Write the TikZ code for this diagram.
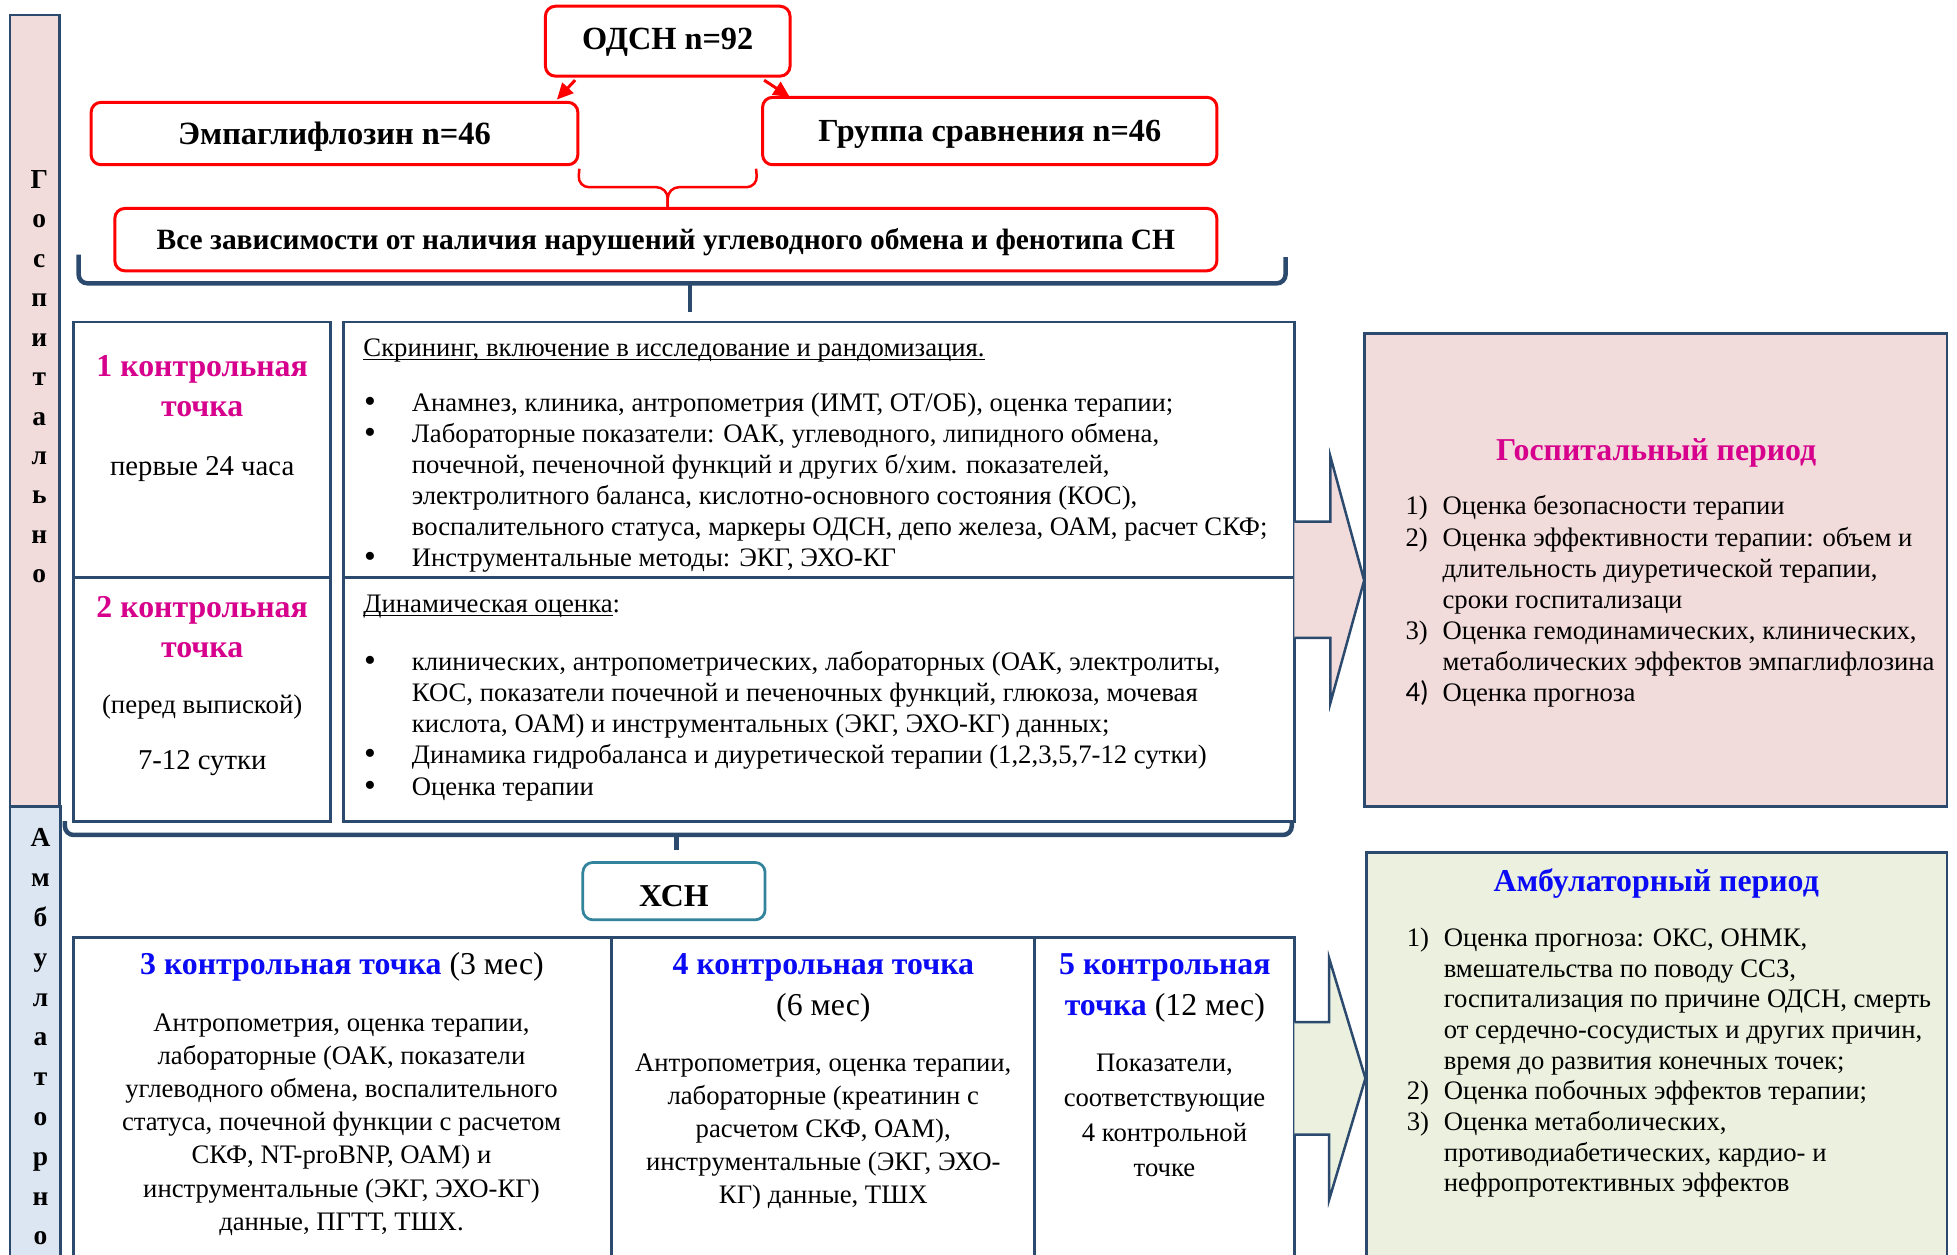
\documentclass[tikz,border=0pt]{standalone}
\usepackage{fontspec}
\setmainfont{Liberation Serif}
\newfontfamily\calibrif{Carlito}
\usetikzlibrary{arrows.meta,calc}
\definecolor{mynavy}{HTML}{2C4A6E}
\definecolor{pinkfill}{HTML}{F2DCDB}
\definecolor{bluefill}{HTML}{DCE6F2}
\definecolor{greenfill}{HTML}{EBF1DE}
\definecolor{magtxt}{RGB}{214,0,140}
\definecolor{bluetxt}{RGB}{10,10,245}
\definecolor{tealline}{HTML}{31849B}
\definecolor{redline}{RGB}{255,0,0}
\newcommand\fbody{\fontsize{21.4}{24.8}\selectfont}
\newcommand\fhead{\fontsize{25.5}{32}\selectfont\bfseries}
\newcommand\fheadr{\fontsize{25.5}{32.3}\selectfont}
\newcommand\fleft{\fontsize{23}{28}\selectfont}
\newcommand\fbar{\fontsize{22}{26}\selectfont\bfseries}
\newcommand\mylines[2]{\begin{tabular}[t]{@{}#1@{}}#2\end{tabular}}
\newcommand\mybul{\makebox[38.8pt][l]{\hspace*{0.5pt}\raisebox{-0.8pt}{\fontsize{27}{27}\selectfont •}}}
\newcommand\myind{\hspace*{38.8pt}}
\newcommand\mynum[1]{\makebox[29.6pt][l]{#1}}
\newcommand\mynind{\hspace*{29.6pt}}
\newsavebox\myulbox
\newcommand\myul[1]{\sbox\myulbox{#1}\rlap{\rule[-2.6pt]{\wd\myulbox}{1.1pt}}\usebox\myulbox}
\begin{document}
\begin{tikzpicture}[x=1pt,y=-1pt,
  txt/.style={inner sep=0pt,anchor=base west},
  ctxt/.style={inner sep=0pt,anchor=base},
  redbox/.style={draw=redline,line width=2.4pt,rounded corners=8pt,fill=white,inner sep=0pt},
  cellbox/.style={draw=mynavy,line width=2.2pt,inner sep=0pt},
  barbox/.style={draw=mynavy,line width=2.2pt},
  bartxt/.style={inner sep=0pt,anchor=base,font=\fbar},
  redarrow/.style={draw=redline,line width=2.4pt,-{Triangle[length=13pt,width=12pt]}},
  redbrace/.style={draw=redline,line width=2pt,rounded corners=9pt},
  navybrace/.style={draw=mynavy,line width=3.6pt,rounded corners=7pt},
  blockarrow/.style={draw=mynavy,line width=2pt,line join=miter}]
\useasboundingbox (0,0) rectangle (1568,1005.5);
\clip (0,0) rectangle (1568,1005.5);
\fill[white] (0,0) rectangle (1568,1005.5);

% left period bars
\draw[barbox,fill=pinkfill] (8,12) rectangle (47.5,646);
\draw[barbox,fill=bluefill] (8,646) rectangle (48.6,1100);
\foreach \ch [count=\i] in {Г,о,с,п,и,т,а,л,ь,н,о}
  \node[bartxt] (gl\i) at (31.5,{151+31.6*(\i-1)}) {\ch};
\foreach \ch [count=\i] in {А,м,б,у,л,а,т,о,р,н,о}
  \node[bartxt] (al\i) at (32.5,{678.5+31.9*(\i-1)}) {\ch};

% top group boxes
\node[redbox,minimum width=196pt,minimum height=56pt,text height=17pt,text depth=3pt,
  font=\fontsize{25.9}{30}\selectfont\bfseries] (odsn) at (535,33) {ОДСН n=92};
\node[redbox,minimum width=390pt,minimum height=50pt,text height=19.8pt,text depth=3pt,
  font=\fontsize{26}{30}\selectfont\bfseries] (emp) at (268,107) {Эмпаглифлозин n=46};
\node[redbox,minimum width=364pt,minimum height=54pt,text height=20pt,text depth=3pt,
  font=\fontsize{25.8}{30}\selectfont\bfseries] (grp) at (793,105) {Группа сравнения n=46};
\node[redbox,minimum width=883pt,minimum height=50pt,text height=19pt,text depth=3pt,
  font=\fontsize{23.6}{28}\selectfont\bfseries] (all) at (533.5,192)
  {Все зависимости от наличия нарушений углеводного обмена и фенотипа СН};

\draw[redarrow] ($(odsn.south west)+(25,2)$) -- ($(emp.north east)+(-18,-1)$);
\draw[redarrow] ($(odsn.south east)+(-22,2)$) -- ($(grp.north west)+(23,1)$);

\coordinate (bracetip) at (535,167);
\draw[redbrace] ($(emp.south east)+(0,2)$) -- (463,150) -- (535,150) -- (bracetip);
\draw[redbrace] ($(grp.south west)+(-4,2)$) -- (607,150) -- (535,150) -- (bracetip);

% navy brace under the group boxes
\draw[navybrace] (63,204) -- (63,227) -- (1030,227) -- (1030,206);
\draw[navybrace] (553,226) -- (553,250);

% upper table
\node[cellbox,minimum width=206pt,minimum height=205pt] (c1) at (162,360.5) {};
\node[cellbox,minimum width=206pt,minimum height=195pt] (c2) at (162,560.5) {};
\node[cellbox,minimum width=762pt,minimum height=205pt] (r1) at (656,360.5) {};
\node[cellbox,minimum width=762pt,minimum height=195pt] (r2) at (656,560.5) {};

\node[ctxt,font=\fhead,text=magtxt] (c1h) at (162,302) {\mylines{c}{1 контрольная\\точка}};
\node[ctxt,font=\fleft] (c1t) at (162,380.6) {первые 24 часа};
\node[ctxt,font=\fhead,text=magtxt] (c2h) at (162,495) {\mylines{c}{2 контрольная\\точка}};
\node[ctxt,font=\fontsize{21.5}{26}\selectfont] (c2t) at (162,571.5) {(перед выпиской)};
\node[ctxt,font=\fleft] (c2d) at (162,616.7) {7-12 сутки};

\node[txt,font=\fbody] (r1h) at (291,286) {\myul{Скрининг, включение в исследование и рандомизация.}};
\node[txt,font=\fbody] (r1l) at (291,330) {\mylines{l}{%
\mybul Анамнез, клиника, антропометрия (ИМТ, ОТ/ОБ), оценка терапии;\\
\mybul Лабораторные показатели: ОАК, углеводного, липидного обмена,\\
\myind почечной, печеночной функций и других б/хим. показателей,\\
\myind электролитного баланса, кислотно-основного состояния (КОС),\\
\myind воспалительного статуса, маркеры ОДСН, депо железа, ОАМ, расчет СКФ;\\
\mybul Инструментальные методы: ЭКГ, ЭХО-КГ}};
\node[txt,font=\fbody] (r2h) at (291,491) {\myul{Динамическая оценка}:};
\node[txt,font=\fontsize{21.4}{25}\selectfont] (r2l) at (291,537) {\mylines{l}{%
\mybul клинических, антропометрических, лабораторных (ОАК, электролиты,\\
\myind КОС, показатели почечной и печеночных функций, глюкоза, мочевая\\
\myind кислота, ОАМ) и инструментальных (ЭКГ, ЭХО-КГ) данных;\\
\mybul Динамика гидробаланса и диуретической терапии (1,2,3,5,7-12 сутки)\\
\mybul Оценка терапии}};

% lower bracket
\draw[navybrace] (52,658) -- (52,669) -- (1035,669) -- (1035,658);
\draw[navybrace] (542,668) -- (542,681);

\node[draw=tealline,line width=2.2pt,rounded corners=8pt,fill=white,inner sep=0pt,
  minimum width=146pt,minimum height=46pt,text height=25pt,text depth=1pt,
  font=\fontsize{25.5}{30}\selectfont\bfseries] (xsn) at (540,714) {ХСН};

% lower table
\node[cellbox,minimum width=431pt,minimum height=349pt] (d1) at (274.5,925.5) {};
\node[cellbox,minimum width=339pt,minimum height=349pt] (d2) at (659.5,925.5) {};
\node[cellbox,minimum width=208pt,minimum height=349pt] (d3) at (933,925.5) {};

\node[ctxt,font=\fheadr] (d1h) at (274,781) {{\bfseries\color{bluetxt}3 контрольная точка} (3 мес)};
\node[ctxt,font=\fontsize{21.4}{26.5}\selectfont] (d1b) at (273.6,826.6) {\mylines{c}{%
Антропометрия, оценка терапии,\\
лабораторные (ОАК, показатели\\
углеводного обмена, воспалительного\\
статуса, почечной функции с расчетом\\
СКФ, NT-proBNP, ОАМ) и\\
инструментальные (ЭКГ, ЭХО-КГ)\\
данные, ПГТТ, ТШХ.}};

\node[ctxt,font=\fheadr] (d2h) at (659.7,781) {\mylines{c}{{\bfseries\color{bluetxt}4 контрольная точка}\\(6 мес)}};
\node[ctxt,font=\fontsize{21.4}{26.3}\selectfont] (d2b) at (659.6,858.7) {\mylines{c}{%
Антропометрия, оценка терапии,\\
лабораторные (креатинин с\\
расчетом СКФ, ОАМ),\\
инструментальные (ЭКГ, ЭХО-\\
КГ) данные, ТШХ}};

\node[ctxt,font=\fheadr] (d3h) at (933.3,781) {\mylines{c}{{\bfseries\color{bluetxt}5 контрольная}\\{\bfseries\color{bluetxt}точка} (12 мес)}};
\node[ctxt,font=\fontsize{21.4}{28}\selectfont] (d3b) at (933,858.7) {\mylines{c}{%
Показатели,\\
соответствующие\\
4 контрольной\\
точке}};

% block arrows
\draw[blockarrow,fill=pinkfill] (1037,418) -- (1066,418) -- (1066,366) -- (1093,465)
  -- (1066,563) -- (1066,511) -- (1037,511);
\draw[blockarrow,fill=greenfill] (1037,819) -- (1065,819) -- (1065,768) -- (1094,864)
  -- (1065,961) -- (1065,909) -- (1037,909);

% right summary boxes
\node[cellbox,fill=pinkfill,minimum width=467pt,minimum height=379pt] (hosp) at (1326.5,456.5) {};
\node[ctxt,font=\fontsize{25.5}{30}\selectfont\bfseries,text=magtxt] (hosph) at (1327,368.6) {Госпитальный период};
\node[txt,font=\fontsize{21.4}{24.9}\selectfont] (hospl) at (1126,412.6) {\mylines{l}{%
\mynum{1)}Оценка безопасности терапии\\
\mynum{2)}Оценка эффективности терапии: объем и\\
\mynind длительность диуретической терапии,\\
\mynind сроки госпитализаци\\
\mynum{3)}Оценка гемодинамических, клинических,\\
\mynind метаболических эффектов эмпаглифлозина\\
\mynum{{\calibrif\fontsize{23}{24}\selectfont 4)}}Оценка прогноза}};

\node[cellbox,fill=greenfill,minimum width=465pt,minimum height=417pt] (amb) at (1327.5,891.5) {};
\node[ctxt,font=\fontsize{25.5}{30}\selectfont\bfseries,text=bluetxt] (ambh) at (1327,714.5) {Амбулаторный период};
\node[txt,font=\fontsize{21.4}{24.56}\selectfont] (ambl) at (1127,758.5) {\mylines{l}{%
\mynum{1)}Оценка прогноза: ОКС, ОНМК,\\
\mynind вмешательства по поводу ССЗ,\\
\mynind госпитализация по причине ОДСН, смерть\\
\mynind от сердечно-сосудистых и других причин,\\
\mynind время до развития конечных точек;\\
\mynum{2)}Оценка побочных эффектов терапии;\\
\mynum{3)}Оценка метаболических,\\
\mynind противодиабетических, кардио- и\\
\mynind нефропротективных эффектов}};
\end{tikzpicture}
\end{document}
